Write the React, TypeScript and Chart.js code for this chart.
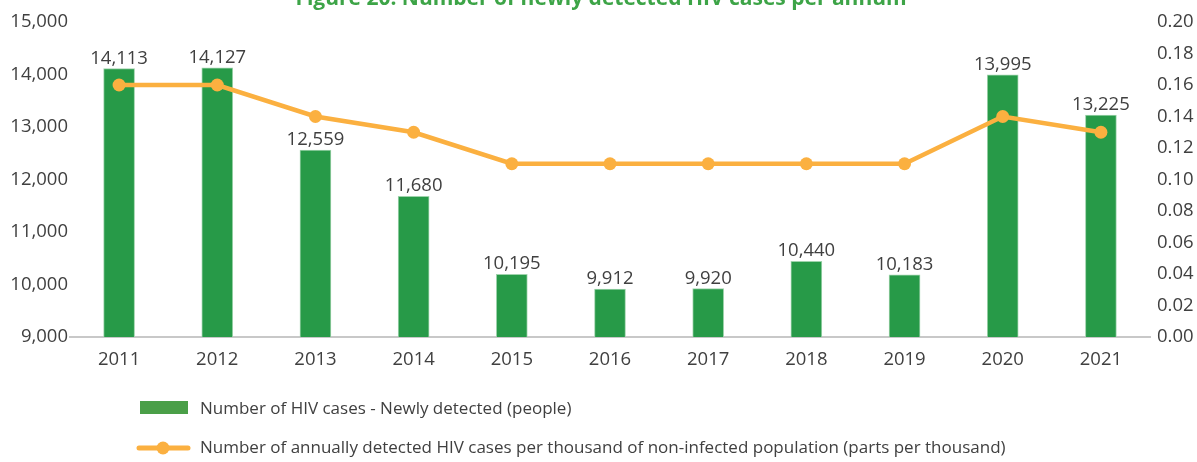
import { useEffect, useRef } from 'react';
import { Chart, registerables } from 'chart.js';

Chart.register(...registerables);

const titleText = 'Figure 20: Number of newly detected HIV cases per annum';
const years = ['2011', '2012', '2013', '2014', '2015', '2016', '2017', '2018', '2019', '2020', '2021'];
const newCases = [14113, 14127, 12559, 11680, 10195, 9912, 9920, 10440, 10183, 13995, 13225];
const ratePerThousand = [0.16, 0.16, 0.14, 0.13, 0.11, 0.11, 0.11, 0.11, 0.11, 0.14, 0.13];
const barLabel = 'Number of HIV cases - Newly detected (people)';
const lineLabel = 'Number of annually detected HIV cases per thousand of non-infected population (parts per thousand)';

const FONT = '"Open Sans", "Noto Sans", sans-serif';
const TEXT = '#404040';
const GREEN = '#279a48';
const LEGEND_GREEN = '#4a9f48';
const ORANGE = '#fbb040';

const valueLabels = {
  id: 'valueLabels',
  afterDatasetsDraw(chart: any) {
    const ctx = chart.ctx;
    const meta = chart.getDatasetMeta(0);
    ctx.save();
    ctx.font = `18.5px ${FONT}`;
    ctx.fillStyle = TEXT;
    ctx.textAlign = 'center';
    ctx.textBaseline = 'alphabetic';
    meta.data.forEach((bar: any, i: number) => {
      ctx.fillText(newCases[i].toLocaleString('en-US'), bar.x, bar.y - 5);
    });
    ctx.restore();
  },
};

const titleAndLegend = {
  id: 'titleAndLegend',
  afterDraw(chart: any) {
    const ctx = chart.ctx;
    ctx.save();
    // title (clipped at the top, as in the reference)
    ctx.font = `bold 21px ${FONT}`;
    ctx.fillStyle = '#3da447';
    ctx.textAlign = 'center';
    ctx.textBaseline = 'alphabetic';
    ctx.fillText(titleText, 601, 5);

    // legend
    ctx.textAlign = 'left';
    ctx.textBaseline = 'middle';
    ctx.font = `17px ${FONT}`;
    ctx.fillStyle = LEGEND_GREEN;
    ctx.fillRect(140, 401, 48, 13);
    ctx.fillStyle = TEXT;
    ctx.fillText(chart.data.datasets[0].label, 200, 409);

    ctx.strokeStyle = ORANGE;
    ctx.lineWidth = 5;
    ctx.lineCap = 'round';
    ctx.beginPath();
    ctx.moveTo(139, 448);
    ctx.lineTo(188, 448);
    ctx.stroke();
    ctx.fillStyle = ORANGE;
    ctx.beginPath();
    ctx.arc(163, 448, 6.5, 0, Math.PI * 2);
    ctx.fill();
    ctx.fillStyle = TEXT;
    ctx.fillText(chart.data.datasets[1].label, 200, 448);
    ctx.restore();
  },
};

export default function App() {
  const ref = useRef<HTMLCanvasElement>(null);
  useEffect(() => {
    document.body.style.margin = '0';
    Chart.defaults.font.family = FONT;
    const chart = new Chart(ref.current!, {
      type: 'bar',
      data: {
        labels: years,
        datasets: [
          {
            type: 'bar',
            label: barLabel,
            data: newCases,
            backgroundColor: GREEN,
            borderColor: '#9fd3ac',
            borderWidth: { left: 1, right: 1, top: 1, bottom: 0 },
            barThickness: 31,
            yAxisID: 'y',
            order: 1,
          },
          {
            type: 'line',
            label: lineLabel,
            data: ratePerThousand,
            borderColor: ORANGE,
            backgroundColor: ORANGE,
            borderWidth: 4.5,
            pointRadius: 6.5,
            pointBorderWidth: 0,
            pointBackgroundColor: ORANGE,
            tension: 0,
            yAxisID: 'y1',
            order: 0,
          },
        ] as any,
      },
      options: {
        responsive: false,
        animation: false,
        layout: { padding: { top: 22, left: 0, right: 0, bottom: 0 } },
        plugins: {
          legend: { display: false },
          tooltip: { enabled: false },
          title: { display: false },
        },
        scales: {
          x: {
            offset: true,
            grid: { display: false, drawTicks: false },
            border: { display: true, color: '#c8c8c8', width: 2 },
            ticks: { color: TEXT, padding: 12, font: { size: 18.5 } },
            afterFit: (s: any) => { s.height = 125; },
          },
          y: {
            position: 'left',
            min: 9000,
            max: 15000,
            grid: { display: false, drawTicks: false },
            border: { display: false },
            ticks: {
              stepSize: 1000,
              color: TEXT,
              padding: 2,
              font: { size: 18.5 },
              callback: (v: any) => Number(v).toLocaleString('en-US'),
            },
            afterFit: (s: any) => { s.width = 70; },
          },
          y1: {
            position: 'right',
            min: 0,
            max: 0.2,
            grid: { display: false, drawTicks: false },
            border: { display: false },
            ticks: {
              stepSize: 0.02,
              color: TEXT,
              padding: 7,
              font: { size: 18.5 },
              callback: (v: any) => Number(v).toFixed(2),
            },
            afterFit: (s: any) => { s.width = 47; },
          },
        },
      } as any,
      plugins: [valueLabels, titleAndLegend],
    });
    return () => chart.destroy();
  }, []);
  return (
    <div style={{ width: 1197, height: 462, position: 'relative', background: '#fff' }}>
      <canvas ref={ref} width={1197} height={462} style={{ width: 1197, height: 462, display: 'block' }} />
    </div>
  );
}
